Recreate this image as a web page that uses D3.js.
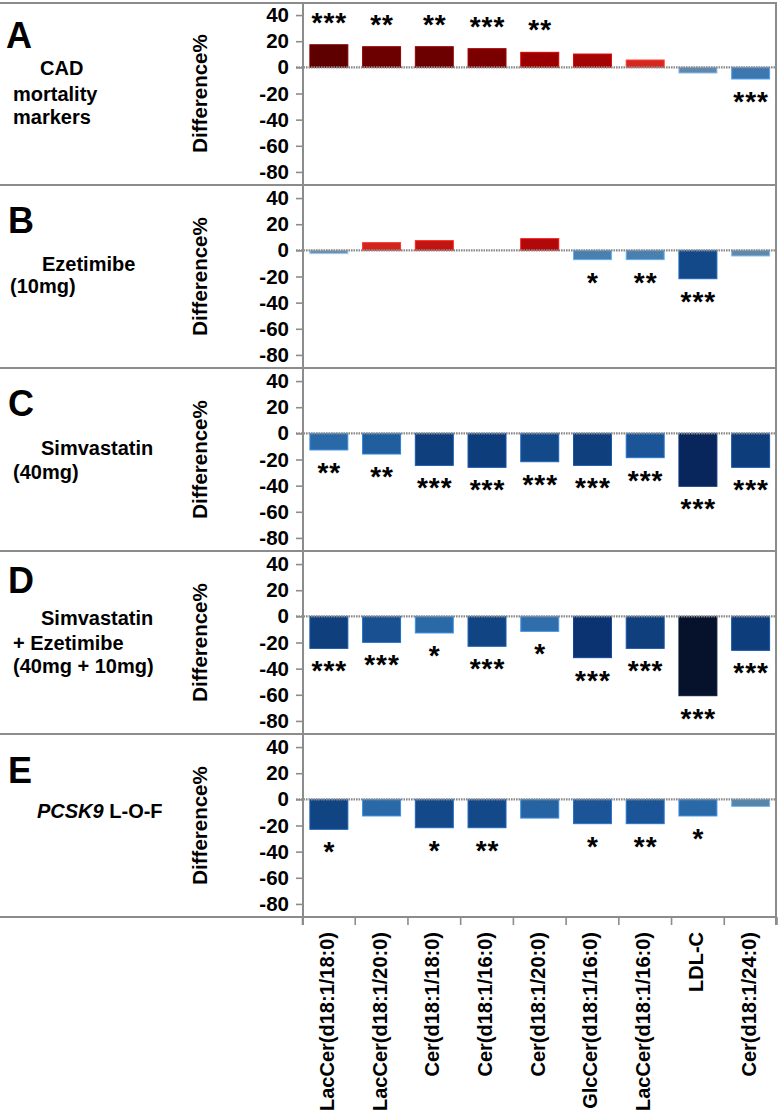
<!DOCTYPE html>
<html>
<head>
<meta charset="utf-8">
<script src="https://cdn.jsdelivr.net/npm/d3@7"></script>
<style>
  html, body { margin: 0; padding: 0; background: #fff; }
  svg { display: block; font-family: "Liberation Sans", Arial, Helvetica, sans-serif; font-weight: bold; }
</style>
</head>
<body>
<svg id="chart" width="780" height="1112"></svg>
<script>
// ---------------- data ----------------
const categories = ["LacCer(d18:1/18:0)", "LacCer(d18:1/20:0)", "Cer(d18:1/18:0)", "Cer(d18:1/16:0)",
  "Cer(d18:1/20:0)", "GlcCer(d18:1/16:0)", "LacCer(d18:1/16:0)", "LDL-C", "Cer(d18:1/24:0)"];
const panelLetters = ["A", "B", "C", "D", "E"];
const cadValues     = [17.3, 15.8, 15.8, 14.3, 11.5, 10.2, 5.6, -4.3, -8.9];
const cadSig        = ["***", "**", "**", "***", "**", "", "", "", "***"];
const ezeValues     = [-2.5, 5.9, 7.4, 0, 8.9, -7.1, -7.1, -21.7, -4.3];
const ezeSig        = ["", "", "", "", "", "*", "**", "***", ""];
const simValues     = [-12.7, -15.8, -24.5, -26, -21.7, -24.5, -18.6, -40.5, -26];
const simSig        = ["**", "**", "***", "***", "***", "***", "***", "***", "***"];
const simEzeValues  = [-24.5, -19.9, -12.7, -22.9, -11.5, -31.6, -24.5, -60.7, -26];
const simEzeSig     = ["***", "***", "*", "***", "*", "***", "***", "***", "***"];
const pcskValues    = [-22.9, -12.7, -21.7, -21.7, -14.3, -18.6, -18.6, -12.7, -5.4];
const pcskSig       = ["*", "", "*", "**", "", "*", "**", "*", ""];
const yTicks = [40, 20, 0, -20, -40, -60, -80];
const yDomain = [-90, 50];
const yTitle = "Difference%";

const panelValues = [cadValues, ezeValues, simValues, simEzeValues, pcskValues];
const panelSig = [cadSig, ezeSig, simSig, simEzeSig, pcskSig];

// ---------------- styles / layout ----------------
const colorDomain = [-61, -40, -31, -24, -19, -15, -12.5, -9, -7, -5, -2.5, 0, 5.5, 7.5, 9, 11.5, 14.5, 17.5];
const colorRange = ["#06122a", "#08265c", "#0b3472", "#0f407e", "#1a5496", "#2360a0", "#2a6aa8", "#3b77b0",
  "#4a80b0", "#5885ac", "#7090ae", "#8aa0b0", "#d42820", "#c01410", "#b00808", "#9a0000", "#780000", "#5c0000"];
const color = d3.scaleLinear().domain(colorDomain).range(colorRange).clamp(true);

const frameColor = "#8c8c8c";
const panelTops = [2, 185, 368, 551, 734];
const panelH = 183;
const axisX = 303, rightX = 777;
const chartBottom = 917;

// description text blocks: [text, x, baseline offset from panel top]
const descLines = [
  [["CAD", 40, 73], ["mortality", 13, 98.5], ["markers", 13, 122]],
  [["Ezetimibe", 42, 86], ["(10mg)", 10, 108]],
  [["Simvastatin", 41, 87], ["(40mg)", 13, 111]],
  [["Simvastatin", 41, 74], ["+ Ezetimibe", 13, 98.5], ["(40mg + 10mg)", 13, 122]],
  [["PCSK9|L-O-F", 37, 84]]
];
const letterBaseline = [46, 48, 48, 42, 49];

const svg = d3.select("#chart");

const x = d3.scaleBand().domain(categories).range([302.5, rightX]).paddingInner(0.28).paddingOuter(0.14);

panelValues.forEach((vals, p) => {
  const top = panelTops[p];
  const y = d3.scaleLinear().domain(yDomain).range([top + panelH, top]);
  const g = svg.append("g");
  const data = categories.map((c, i) => ({ c, v: vals[i], s: panelSig[p][i] }));

  // bars
  g.selectAll("rect.bar").data(data.filter(d => d.v !== 0)).join("rect")
    .attr("class", "bar")
    .attr("x", d => x(d.c))
    .attr("width", x.bandwidth())
    .attr("y", d => y(Math.max(0, d.v)))
    .attr("height", d => Math.abs(y(d.v) - y(0)))
    .attr("fill", d => color(d.v))
    .attr("stroke", d => d3.color(color(d.v)).brighter(0.9))
    .attr("stroke-width", 1);

  // zero line
  g.append("line")
    .attr("x1", axisX - 7).attr("x2", rightX)
    .attr("y1", y(0)).attr("y2", y(0))
    .attr("stroke", "#8a8a8a").attr("stroke-width", 2.2)
    .attr("stroke-dasharray", "1.6,0.9");

  // significance stars
  g.selectAll("text.sig").data(data.filter(d => d.s)).join("text")
    .attr("class", "sig")
    .attr("x", d => x(d.c) + x.bandwidth() / 2 + 0.5)
    .attr("y", d => d.v >= 0 ? y(d.v) - 13 : y(d.v) + 32)
    .attr("text-anchor", "middle")
    .style("font-size", "28px")
    .style("letter-spacing", "1px")
    .style("font-weight", "bold")
    .attr("fill", "#000")
    .text(d => d.s);

  // y axis ticks
  const ax = svg.append("g").attr("transform", `translate(${axisX},0)`)
    .call(d3.axisLeft(y).tickValues(yTicks).tickSize(7).tickPadding(7).tickFormat(d => String(d)));
  ax.select(".domain").remove();
  ax.selectAll(".tick line").attr("stroke", frameColor).attr("stroke-width", 1.6);
  ax.selectAll(".tick text").attr("fill", "#000").style("font-size", "20.5px").style("font-weight", "bold")
    .style("font-family", "'Liberation Sans', Arial, sans-serif");

  // y title
  svg.append("text")
    .attr("transform", `translate(207,${top + panelH / 2}) rotate(-90)`)
    .attr("text-anchor", "middle")
    .style("font-size", "20.5px")
    .text(yTitle);

  // panel letter
  svg.append("text").attr("x", p === 0 ? 6 : 8).attr("y", top + letterBaseline[p])
    .style("font-size", "36px").text(panelLetters[p]);

  // description
  descLines[p].forEach(([t, lx, ly]) => {
    const txt = svg.append("text").attr("x", lx).attr("y", top + ly).style("font-size", "20px");
    if (t.includes("|")) {
      const [it, rest] = t.split("|");
      txt.append("tspan").style("font-style", "italic").text(it);
      txt.append("tspan").text(" " + rest);
    } else {
      txt.text(t);
    }
  });
});

// frame lines
const frame = svg.append("g").attr("stroke", frameColor).attr("stroke-width", 2);
frame.append("line").attr("x1", 0).attr("x2", rightX).attr("y1", 3).attr("y2", 3);
panelTops.slice(1).concat([chartBottom]).forEach(t => {
  frame.append("line").attr("x1", 0).attr("x2", rightX).attr("y1", t).attr("y2", t);
});
frame.append("line").attr("x1", axisX).attr("x2", axisX).attr("y1", 2).attr("y2", chartBottom + 8);
frame.append("line").attr("x1", rightX - 1).attr("x2", rightX - 1).attr("y1", 2).attr("y2", chartBottom + 8);
// category boundary ticks
d3.range(categories.length + 1).forEach(i => {
  const bx = x.range()[0] + i * x.step();
  frame.append("line").attr("x1", bx).attr("x2", bx).attr("y1", chartBottom).attr("y2", chartBottom + 8)
    .attr("stroke-width", 1.6);
});

// x axis labels
const xa = svg.append("g").attr("transform", `translate(0,${chartBottom})`)
  .call(d3.axisBottom(x).tickSize(0));
xa.select(".domain").remove();
xa.selectAll(".tick text")
  .attr("transform", "rotate(-90)")
  .attr("x", -15).attr("y", 0).attr("dy", "0.25em")
  .style("text-anchor", "end")
  .attr("fill", "#000")
  .style("font-size", "20px").style("font-weight", "bold")
  .style("font-family", "'Liberation Sans', Arial, sans-serif");
</script>
</body>
</html>
